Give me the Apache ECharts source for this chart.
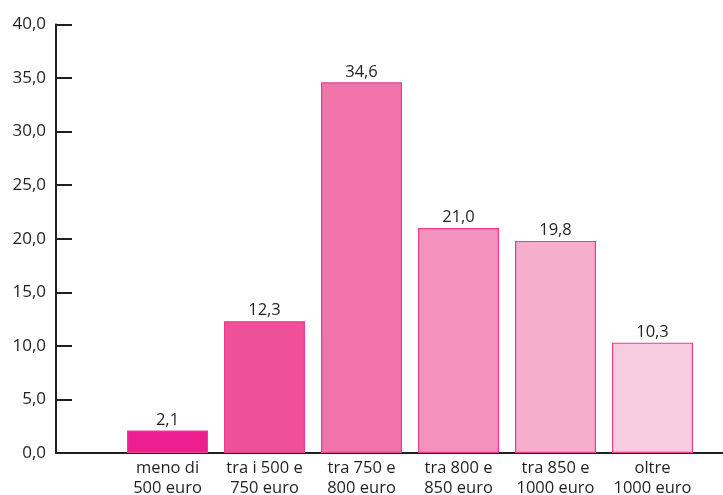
<!DOCTYPE html>
<html><head><meta charset="utf-8">
<script src="https://cdn.jsdelivr.net/npm/echarts@6/dist/echarts.min.js"></script>
<style>html,body{margin:0;padding:0;background:#fff}#c{width:723px;height:495px}</style>
</head><body><div id="c"></div>
<script>
var categories = ['meno di\n500 euro', 'tra i 500 e\n750 euro', 'tra 750 e\n800 euro', 'tra 800 e\n850 euro', 'tra 850 e\n1000 euro', 'oltre\n1000 euro'];
var values = [2.1, 12.3, 34.6, 21.0, 19.8, 10.3];
var barColors = ['#ED1E8F', '#EE519A', '#F075AA', '#F292BD', '#F5AECC', '#F7CCDF'];
var yTicks = [0, 5, 10, 15, 20, 25, 30, 35, 40];

var font = 'Open Sans';
var chart = echarts.init(document.getElementById('c'));
chart.setOption({
  animation: false,
  grid: [
    {left: 56, right: 0, top: 24.5, bottom: 42, containLabel: false, outerBoundsMode: 'none'},
    {left: 119, right: 22, top: 24.5, bottom: 42, containLabel: false, outerBoundsMode: 'none'}
  ],
  xAxis: [
    {gridIndex: 0, type: 'value', min: 0, max: 1, axisLine: {show: true, onZero: false, lineStyle: {color: '#231F20', width: 2}},
     axisTick: {show: false}, axisLabel: {show: false}, splitLine: {show: false}},
    {gridIndex: 1, type: 'category', data: categories, axisLine: {show: false}, axisTick: {show: false},
     axisLabel: {interval: 0, color: '#231F20', fontFamily: font, fontSize: 16.5, lineHeight: 20, margin: 5}}
  ],
  yAxis: [
    {gridIndex: 0, type: 'value', min: yTicks[0], max: yTicks[yTicks.length - 1], interval: 5,
     axisLine: {show: true, lineStyle: {color: '#231F20', width: 2}},
     axisTick: {show: true, inside: true, length: 16, lineStyle: {color: '#231F20', width: 2}},
     axisLabel: {color: '#231F20', fontFamily: font, fontSize: 17, margin: 10,
       formatter: function (v) { return v.toFixed(1).replace('.', ','); }},
     splitLine: {show: false}},
    {gridIndex: 1, type: 'value', min: 0, max: 40, show: false}
  ],
  series: [{
    type: 'bar', xAxisIndex: 1, yAxisIndex: 1, barWidth: 81,
    data: values.map(function (v, i) {
      return {value: v, itemStyle: {color: barColors[i], borderColor: '#EC3A95', borderWidth: 1.2}};
    }),
    label: {show: true, position: 'top', distance: 2, color: '#231F20', fontFamily: font, fontSize: 16.5,
      formatter: function (p) { return p.value.toFixed(1).replace('.', ','); }}
  }]
});
</script></body></html>
